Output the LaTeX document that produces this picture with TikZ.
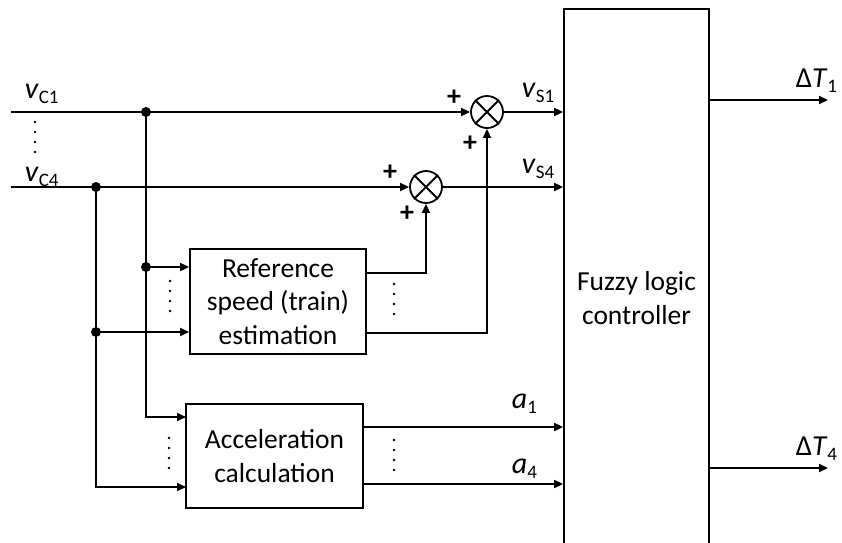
\documentclass[tikz,border=0pt]{standalone}
\usepackage{fontspec}
\setmainfont{Carlito}
\usetikzlibrary{arrows.meta,calc}
\newcommand\sublbl[2]{\textit{#1}\raisebox{-5pt}{\fontsize{19}{19}\selectfont #2}}
\begin{document}
\begin{tikzpicture}[x=1pt,y=-1pt,
  line width=1.8pt,
  arr/.style={-{Triangle[length=9pt,width=8pt]}},
  blockbox/.style={draw,rectangle,inner sep=0pt,align=center,font=\fontsize{27.5}{33.5}\selectfont},
  sumnode/.style={draw,circle,minimum size=32pt,inner sep=0pt},
  junct/.style={circle,fill,minimum size=10pt,inner sep=0pt},
  lbl/.style={anchor=base west,inner sep=0pt,font=\fontsize{30}{30}\selectfont},
  dlbl/.style={anchor=base east,inner sep=0pt,font=\fontsize{29}{29}\selectfont},
  plus/.style={inner sep=0pt,font=\fontsize{28}{28}\selectfont\bfseries}]
\useasboundingbox (0,0) rectangle (842,542);
% blocks
\node[blockbox,minimum width=145pt,minimum height=578pt] (flc) at (636.5,298) {Fuzzy logic\\controller};
\node[blockbox,minimum width=176pt,minimum height=105pt] (ref) at (278,301.5) {Reference\\speed (train)\\estimation};
\node[blockbox,minimum width=177pt,minimum height=104pt] (acc) at (274.5,456) {Acceleration\\calculation};
\node[sumnode] (s1) at (487,112) {};
\node[sumnode] (s2) at (426,187) {};
\draw (s1.north west) -- (s1.south east) (s1.north east) -- (s1.south west);
\draw (s2.north west) -- (s2.south east) (s2.north east) -- (s2.south west);
% coordinates
\coordinate (in1) at (11,112);
\coordinate (in4) at (11,187);
\node[junct] (j1) at (146,112) {};
\node[junct] (j4) at (96,187) {};
\node[junct] (j1r) at (146,267) {};
\node[junct] (j4r) at (96,332) {};
\coordinate (ri1) at (ref.west |- j1r);
\coordinate (ri4) at (ref.west |- j4r);
\coordinate (ai1) at (186,417);
\coordinate (ai4) at (186,487);
\coordinate (ro1) at (366,273);
\coordinate (ro4) at (366,333);
\coordinate (ao1) at (363,427);
\coordinate (ao4) at (363,484);
\coordinate (fo1) at (709,100);
\coordinate (fo4) at (709,468);
\coordinate (dt1) at (828,100);
\coordinate (dt4) at (828,468);
% connectors
\draw[arr] (in1) -- (s1.west);
\draw[arr] (in4) -- (s2.west);
\draw[arr] (s1.east) -- (s1.east -| flc.west);
\draw[arr] (s2.east) -- (s2.east -| flc.west);
\draw[arr] (j1.center) |- (ai1);
\draw[arr] (j4.center) |- (ai4);
\draw[arr] (j1r.center) -- (ri1);
\draw[arr] (j4r.center) -- (ri4);
\draw[arr] (ro1) -| (s2.south);
\draw[arr] (ro4) -| (s1.south);
\draw[arr] (ao1) -- (ao1 -| flc.west);
\draw[arr] (ao4) -- (ao4 -| flc.west);
\draw[arr] (fo1) -- (dt1);
\draw[arr] (fo4) -- (dt4);
% labels
\node[lbl] at (24,98) {\sublbl{v}{C1}};
\node[lbl] at (24,181) {\sublbl{v}{C4}};
\node[lbl] at (521,97) {\sublbl{v}{S1}};
\node[lbl] at (521,173) {\sublbl{v}{S4}};
\node[lbl] at (511,408) {\sublbl{a}{1}};
\node[lbl] at (511,473) {\sublbl{a}{4}};
\node[dlbl] at (838,87) {Δ\sublbl{T}{1}};
\node[dlbl] at (838,455) {Δ\sublbl{T}{4}};
\node[plus] at (454,98) {+};
\node[plus] at (470,144) {+};
\node[plus] at (390,173) {+};
\node[plus] at (407,214) {+};
% vertical dots
\foreach \yy in {122,132,142,152} \fill (35,\yy) circle (1.3pt);
\foreach \yy in {281,291,301,311} \fill (170,\yy) circle (1.3pt);
\foreach \yy in {284,294,304,314} \fill (394,\yy) circle (1.3pt);
\foreach \yy in {438,448,458,468} \fill (169,\yy) circle (1.3pt);
\foreach \yy in {440,450,460,470} \fill (394,\yy) circle (1.3pt);
\end{tikzpicture}
\end{document}
